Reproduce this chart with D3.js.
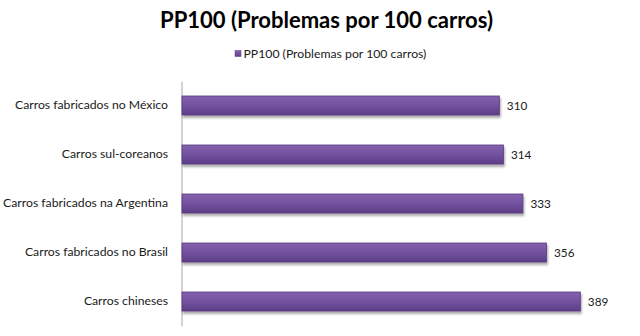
<!DOCTYPE html>
<html><head><meta charset="utf-8">
<script src="https://cdn.jsdelivr.net/npm/d3@7"></script>
<style>html,body{margin:0;padding:0;background:#fff;}svg{display:block;}</style>
</head><body>
<script>
const categories = ["Carros fabricados no México","Carros sul-coreanos","Carros fabricados na Argentina","Carros fabricados no Brasil","Carros chineses"];
const values = [310, 314, 333, 356, 389];
const seriesName = "PP100 (Problemas por 100 carros)";
const titleText = "PP100 (Problemas por 100 carros)";

const W = 640, H = 336;
const FONT = "Lato, 'Open Sans', sans-serif";
const svg = d3.select("body").append("svg").attr("width", W).attr("height", H);
const defs = svg.append("defs");
const grad = defs.append("linearGradient").attr("id","barGrad").attr("x1",0).attr("y1",0).attr("x2",0).attr("y2",1);
grad.append("stop").attr("offset","0%").attr("stop-color","#8462ad");
grad.append("stop").attr("offset","50%").attr("stop-color","#7351a0");
grad.append("stop").attr("offset","100%").attr("stop-color","#5c3d86");
const f = defs.append("filter").attr("id","shadow").attr("x","-5%").attr("y","-30%").attr("width","110%").attr("height","180%");
f.append("feDropShadow").attr("dx",1).attr("dy",2.5).attr("stdDeviation",1.3).attr("flood-color","#000").attr("flood-opacity",0.35);

const x = d3.scaleLinear().domain([0, 400]).range([181.5, 181.5 + 410.1]);
const y = d3.scaleBand().domain(categories).range([81, 326]).paddingInner(0.612).paddingOuter(0.306);

function fitText(sel, targetW) {
  const n = sel.node();
  const w = n.getComputedTextLength();
  const fs = parseFloat(sel.attr("font-size"));
  sel.attr("font-size", (fs * targetW / w).toFixed(2));
}

// Title
const title = svg.append("text").attr("x", 326.5).attr("y", 28).attr("text-anchor","middle")
  .attr("font-family", FONT).attr("font-weight","bold").attr("font-size", 22).attr("fill","#000").text(titleText);
fitText(title, 333);

// Legend
const leg = svg.append("g");
leg.append("rect").attr("x",235).attr("y",50.5).attr("width",6).attr("height",6).attr("fill","url(#barGrad)").attr("stroke","#5c3d86").attr("stroke-width",0.5);
const legT = leg.append("text").attr("x",243.5).attr("y",58).attr("font-family",FONT).attr("font-size",11).attr("fill","#1a1a1a").text(seriesName);
fitText(legT, 183);

// Axis
const yAxis = d3.axisLeft(y).tickSize(0).tickPadding(13.5);
const ax = svg.append("g").attr("transform", `translate(${x(0)},0)`).call(yAxis);
ax.select(".domain").attr("stroke","#a6a6a6").attr("stroke-width",1);
ax.selectAll("text").attr("font-family",FONT).attr("font-size",12).attr("fill","#1a1a1a");
const longest = ax.selectAll("text").filter(d => d === "Carros fabricados na Argentina");
const lw = longest.node().getComputedTextLength();
const catFs = 12 * 165 / lw;
ax.attr("font-size", null);
ax.selectAll("text").attr("font-size", catFs.toFixed(2));

// Bars
svg.append("g").selectAll("rect").data(values).join("rect")
  .attr("x", x(0) + 0.5)
  .attr("y", (d,i) => y(categories[i]))
  .attr("width", d => x(d) - x(0) - 0.5)
  .attr("height", y.bandwidth())
  .attr("fill","url(#barGrad)")
  .attr("stroke","#573a7f").attr("stroke-width",0.8)
  .attr("filter","url(#shadow)");

// Value labels
const vl = svg.append("g").selectAll("text").data(values).join("text")
  .attr("x", d => x(d) + 7.5)
  .attr("y", (d,i) => y(categories[i]) + y.bandwidth()/2)
  .attr("dy","0.35em")
  .attr("font-family",FONT).attr("font-size",12).attr("fill","#1a1a1a")
  .text(d => d);
const vw = vl.nodes()[0].getComputedTextLength();
vl.attr("font-size", (12 * 20.5 / vw).toFixed(2));
</script>
</body></html>
